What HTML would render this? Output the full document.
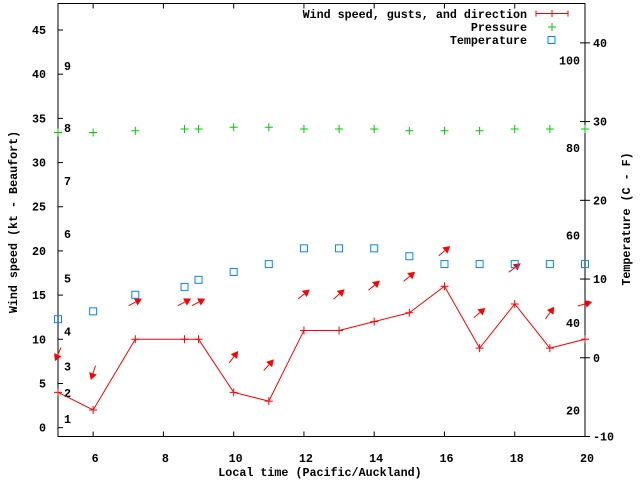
<!DOCTYPE html>
<html><head><meta charset="utf-8"><style>
body{margin:0;background:#fff}
svg text{font-family:"Liberation Mono",monospace;font-weight:bold;font-size:11.7px;fill:#000}
</style></head><body>
<svg id="c" width="640" height="480" xmlns="http://www.w3.org/2000/svg">
<rect x="0" y="0" width="640" height="480" fill="#fff"/>
<g id="axes"></g>
<g id="series"></g>
<g id="legend">
<text x="527" y="18" text-anchor="end">Wind speed, gusts, and direction</text>
<path d="M536 13.5H568M536 10.5V16.5M568 10.5V16.5M552 10V17" stroke="#f00" stroke-width="1"/>
<text x="527" y="31" text-anchor="end">Pressure</text>
<path d="M548 27H556M552 23V31" stroke="#0c0"/>
<text x="527" y="44" text-anchor="end">Temperature</text>
<rect x="548" y="36.5" width="7" height="7" fill="none" stroke="#08f"/>
</g>
</svg>
<script>
const times=[5,6,7.2,8.6,9,10,11,12,13,14,15,16,17,18,19,20];
const windSpeed=[4,2,10,10,10,4,3,11,11,12,13,16,9,14,9,10];
const gusts=[8.3,6.2,14.2,14.2,14.2,8,7.1,15.1,15.1,16.1,17.1,20,13,18.1,13,14];
const arrowAngle=[246,252,28,28,28,53,48,39,42,40,40,40,40,37,54,16];
const pressure=[33.4,33.4,33.6,33.8,33.8,34,34,33.8,33.8,33.8,33.6,33.6,33.6,33.8,33.8,33.8];
const tempC=[4.9,5.9,8.0,9.0,9.9,10.9,11.9,13.9,13.9,13.9,12.9,11.9,11.9,11.9,11.9,11.9];
const xTicks=[6,8,10,12,14,16,18,20];
const yTicks=[0,5,10,15,20,25,30,35,40,45];
const cTicks=[-10,0,10,20,30,40];
const fTicks=[20,40,60,80,100];
const beaufortLabels=["1","2","3","4","5","6","7","8","9"];
const beaufortKt=[1,3.9,6.9,10.9,16.9,21.9,27.9,33.9,40.9];

const L=58,R=585,T=3.5,B=436.5;
const X=t=>L+(t-5)/15*(R-L);
const Y=v=>B-(v+1)/49*(B-T);
const YC=c=>B-(c+10)/55*(B-T);
const YF=f=>YC((f-32)*5/9);
const NS="http://www.w3.org/2000/svg";
function mk(tag,attrs,parent,txt){const e=document.createElementNS(NS,tag);for(const k in attrs)e.setAttribute(k,attrs[k]);if(txt!==undefined)e.textContent=txt;parent.appendChild(e);return e;}
const ax=document.getElementById('axes'),sr=document.getElementById('series');

let fr=mk('rect',{x:L,y:T,width:R-L,height:B-T,fill:'none',stroke:'#000'},ax);


xTicks.forEach(t=>{
 let p=mk('path',{d:`M${X(t)} ${B}v-5M${X(t)} ${T}v5`,stroke:'#000'},ax);
 
 
 let tx=mk('text',{x:X(t)+2,y:462,'text-anchor':'middle'},ax,String(t));
 
 
});
yTicks.forEach(v=>{
 let p=mk('path',{d:`M${L} ${Y(v)}h5`,stroke:'#000'},ax);
 
 
 let tx=mk('text',{x:46,y:Y(v)+4,'text-anchor':'end'},ax,String(v));
 
 
});
cTicks.forEach(c=>{
 let p=mk('path',{d:`M${R-5} ${YC(c)}h10`,stroke:'#000'},ax);
 
 
 let tx=mk('text',{x:593,y:YC(c)+4},ax,String(c));
 
 
});
fTicks.forEach(f=>{
 let tx=mk('text',{x:580,y:YF(f)+4,'text-anchor':'end'},ax,String(f));
 
 
});
beaufortLabels.forEach((b,i)=>{
 let tx=mk('text',{x:64,y:Y(beaufortKt[i])+4},ax,b);
 
 
});
let xt=mk('text',{x:320,y:476,'text-anchor':'middle'},ax,'Local time (Pacific/Auckland)');


let yt=mk('text',{x:0,y:0,'text-anchor':'middle',transform:'translate(17,222) rotate(-90)'},ax,'Wind speed (kt - Beaufort)');


let y2t=mk('text',{x:0,y:0,'text-anchor':'middle',transform:'translate(630,219) rotate(-90)'},ax,'Temperature (C - F)');



// wind line
let wl=mk('polyline',{points:times.map((t,i)=>X(t)+','+Y(windSpeed[i])).join(' '),fill:'none',stroke:'#f00'},sr);


times.forEach((t,i)=>{
 const x=X(t),y=Y(windSpeed[i]);
 let p=mk('path',{d:`M${x-4} ${y}h8M${x} ${y-4}v8`,stroke:'#f00'},sr);
 
 
 // direction arrow
 const a=arrowAngle[i]*Math.PI/180,len=15,cx=X(t),cy=Y(gusts[i]);
 const dx=Math.cos(a)*len/2,dy=-Math.sin(a)*len/2;
 const hx=cx+dx,hy=cy+dy,tx=cx-dx,ty=cy-dy;
 const ux=Math.cos(a),uy=-Math.sin(a);
 const bx=hx-ux*7,by=hy-uy*7;
 let g=mk('g',{},sr);
 
 
 mk('line',{x1:tx,y1:ty,x2:bx,y2:by,stroke:'#f00'},g);
 mk('polygon',{points:`${hx},${hy} ${bx+uy*4},${by-ux*4} ${bx-uy*4},${by+ux*4}`,fill:'#f00'},g);
 // pressure
 const py=Y(pressure[i]);
 let pp=mk('path',{d:`M${x-4} ${py}h8M${x} ${py-4}v8`,stroke:'#0c0'},sr);
 
 
 // temperature
 let tr=mk('rect',{x:x-3.5,y:YC(tempC[i])-3.5,width:7,height:7,fill:'none',stroke:'#08f'},sr);
 
 
});
</script>
</body></html>
